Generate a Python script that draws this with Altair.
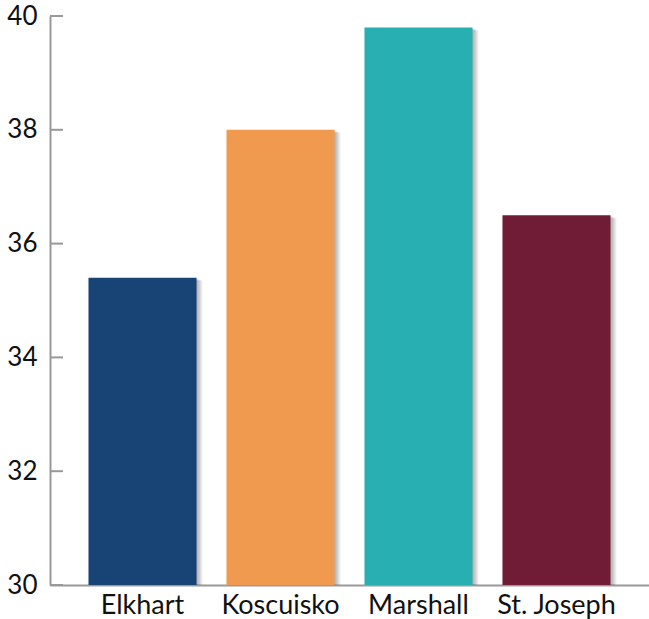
import altair as alt
import pandas as pd

# County values
counties = ["Elkhart", "Koscuisko", "Marshall", "St. Joseph"]
values = [35.4, 38.0, 39.8, 36.5]
colors = ["#174475", "#EF9A4E", "#28AFB1", "#701C37"]
tick_values = [30, 32, 34, 36, 38, 40]

df = pd.DataFrame({"county": counties, "value": values})
ticks_df = pd.DataFrame({"v": tick_values})

FONT = "Lato"
AXIS_GRAY = "#999999"

x_scale = alt.Scale(domain=counties, paddingInner=0.217, paddingOuter=0.279)
y_scale = alt.Scale(domain=[30, 40], nice=False, zero=False)

x_axis = alt.Axis(
    title=None, labelAngle=0, labelAlign="center", ticks=False, grid=False, labelPadding=7,
    labelFont=FONT, labelFontSize=27, labelColor="#111111",
    domainColor=AXIS_GRAY, domainWidth=2,
)
y_axis = alt.Axis(
    title=None, values=tick_values, format="d", ticks=False, grid=False,
    labelPadding=13, labelFont=FONT, labelFontSize=26, labelColor="#111111",
    domainColor=AXIS_GRAY, domainWidth=2,
)


def x_enc():
    return alt.X("county:N", scale=x_scale, sort=counties, axis=x_axis)


def y_enc(field="value:Q"):
    return alt.Y(field, scale=y_scale, axis=y_axis)


# soft drop shadow built from a few faint offset copies of each bar
shadow_layers = []
for dx in [1, 2, 3, 4, 5, 6]:
    shadow_layers.append(
        alt.Chart(df).mark_bar(color="#000000", opacity=0.055, xOffset=dx, yOffset=dx * 0.5)
        .encode(x=x_enc(), y=y_enc(), y2=alt.datum(30))
    )

bars = alt.Chart(df).mark_bar().encode(
    x=x_enc(),
    y=y_enc(),
    y2=alt.datum(30),
    color=alt.Color("county:N", scale=alt.Scale(domain=counties, range=colors), legend=None),
)

# axis ticks pointing into the plot
tick_marks = alt.Chart(ticks_df).mark_rule(color=AXIS_GRAY, strokeWidth=2).encode(
    y=y_enc("v:Q"),
    x=alt.value(0),
    x2=alt.value(13),
)

chart = alt.layer(*shadow_layers, bars, tick_marks).properties(
    width=599,
    height=569,
    autosize=alt.AutoSizeParams(type="none"),
    padding={"left": 50, "top": 16, "right": 0, "bottom": 34},
).configure(background="white", view=alt.ViewConfig(stroke=None))

chart.save("out.html", embed_options={"renderer": "svg", "actions": False})
